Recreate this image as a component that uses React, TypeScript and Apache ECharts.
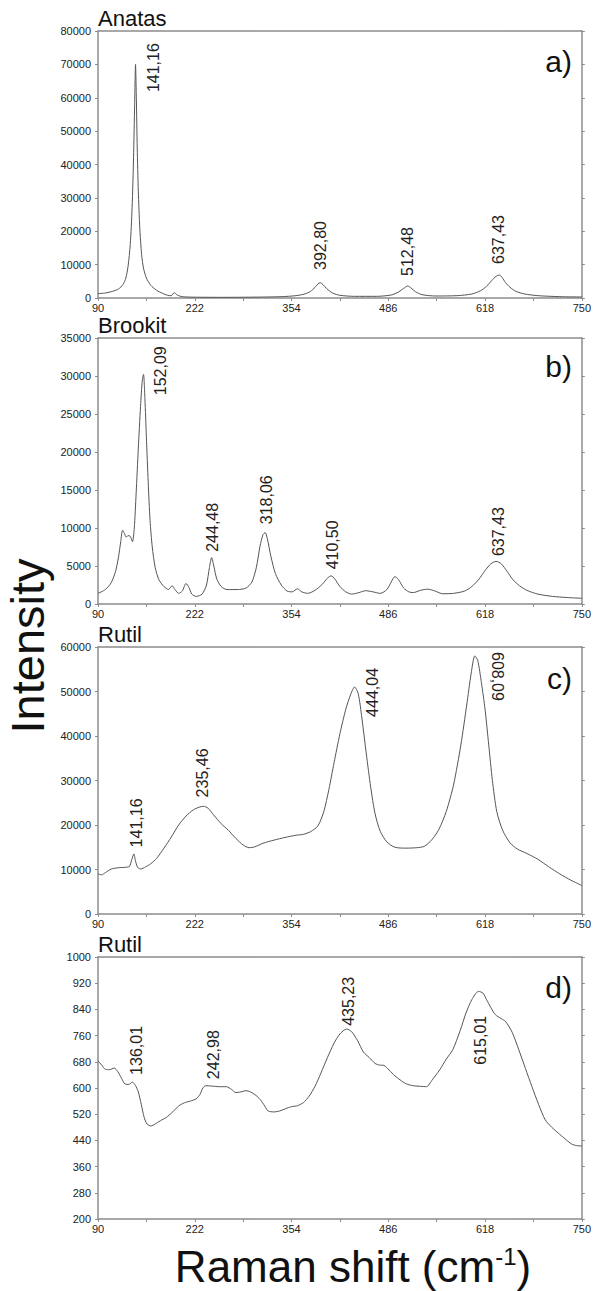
import React, { useEffect, useRef } from 'react';
import * as echarts from 'echarts';

// ---------- data ----------
const xTickLabels = ['90', '222', '354', '486', '618', '750'];

const anatasSpectrum: [number, number][] = [
  [90, 1300], [100, 1500], [110, 2000], [118, 2700], [124, 4000], [128, 6000], [131, 9500], [134, 16000],
  [136.5, 27000], [138.5, 42000], [140, 58000], [141.2, 70000], [142.3, 60000], [143.5, 45000], [145, 32000],
  [147, 21000], [149.5, 13000], [152, 9000], [156, 6000], [162, 3800], [170, 2300], [178, 1400], [185, 800],
  [190, 700], [194, 1600], [198, 900], [205, 400], [220, 250], [260, 200], [300, 250], [340, 400], [360, 700],
  [372, 1200], [380, 2000], [386, 3200], [390, 4200], [393, 4600], [397, 4000], [402, 2800], [410, 1500],
  [420, 800], [440, 500], [470, 500], [490, 900], [500, 1800], [507, 2900], [512.5, 3600], [517, 3000],
  [523, 1900], [532, 1000], [550, 600], [580, 700], [600, 1200], [612, 2200], [620, 3500], [627, 5200],
  [633, 6500], [637.4, 6900], [641, 6200], [646, 4600], [652, 3200], [660, 2000], [672, 1200], [690, 700],
  [720, 400], [750, 300],
];

const brookitSpectrum: [number, number][] = [
  [90, 1400], [100, 1900], [108, 2800], [114, 4300], [118, 6200], [121, 8200], [123.5, 9700], [126, 9300],
  [128.5, 8800], [131, 9000], [134, 8900], [137, 8200], [139.5, 10000], [142, 14500], [145, 20500],
  [148, 26000], [150.5, 29500], [152.1, 30200], [154, 27000], [156, 22000], [158.5, 16000], [161, 11000],
  [164, 7500], [168, 4800], [173, 3200], [180, 2300], [186, 1900], [191, 2400], [195, 1900], [200, 1400],
  [205, 1700], [210, 2700], [214, 2200], [218, 1300], [224, 1000], [232, 1300], [238, 2500], [242, 4800],
  [245, 6100], [248, 5000], [252, 3300], [258, 2300], [266, 1900], [280, 1900], [292, 2100], [300, 2900],
  [306, 4800], [311, 7600], [315, 9100], [318, 9400], [321, 8600], [326, 6200], [332, 4000], [340, 2500],
  [348, 1700], [355, 1600], [362, 2000], [368, 1600], [376, 1400], [386, 1800], [396, 2600], [403, 3400],
  [408, 3700], [413, 3300], [420, 2300], [428, 1600], [436, 1300], [446, 1500], [455, 1750], [465, 1600],
  [475, 1400], [484, 1900], [490, 2900], [495, 3600], [500, 3200], [507, 2100], [514, 1600], [520, 1500],
  [530, 1800], [540, 1950], [550, 1700], [560, 1350], [575, 1400], [590, 1700], [600, 2300], [610, 3300],
  [618, 4400], [626, 5300], [633, 5600], [640, 5300], [648, 4300], [656, 3200], [665, 2400], [675, 1800],
  [690, 1300], [710, 1000], [730, 850], [750, 750],
];

const rutilSpectrum1: [number, number][] = [
  [90, 9000], [95, 8800], [100, 9300], [108, 10100], [118, 10400], [128, 10500], [133, 10700], [136, 12200],
  [139, 13500], [141, 12000], [144, 10500], [148, 10100], [155, 10600], [162, 11300], [170, 12500],
  [180, 14800], [190, 17300], [200, 20000], [210, 22000], [220, 23400], [228, 24000], [234, 24200],
  [240, 23800], [248, 22200], [258, 20300], [268, 18800], [278, 17000], [288, 15500], [296, 14900],
  [304, 15100], [315, 15900], [330, 16600], [345, 17200], [360, 17700], [370, 17900], [380, 18500],
  [390, 19800], [398, 23000], [405, 28000], [412, 34000], [420, 40500], [428, 46000], [435, 49500],
  [440, 51000], [445, 49500], [450, 44000], [456, 36000], [462, 28500], [468, 22500], [475, 18600],
  [484, 16200], [495, 15000], [510, 14800], [525, 14900], [535, 15200], [545, 16600], [555, 19000],
  [565, 23000], [575, 29000], [585, 38000], [593, 47000], [599, 54000], [604, 58000], [608, 57000],
  [613, 52000], [618, 46000], [623, 38000], [628, 30000], [634, 23000], [642, 18800], [652, 16000],
  [662, 14600], [675, 13600], [690, 12300], [705, 10600], [720, 9000], [735, 7600], [750, 6400],
];

const rutilSpectrum2: [number, number][] = [
  [90, 683], [95, 670], [100, 657], [106, 656], [112, 661], [117, 650], [122, 630], [127, 612], [132, 611],
  [137, 618], [141, 608], [145, 588], [149, 550], [153, 510], [157, 490], [162, 484], [168, 490], [175, 500],
  [183, 510], [192, 527], [200, 545], [208, 555], [216, 560], [224, 567], [229, 580], [233, 600], [237, 607],
  [245, 606], [255, 604], [265, 604], [272, 596], [278, 586], [285, 588], [292, 592], [298, 588], [304, 580],
  [310, 568], [316, 550], [322, 530], [330, 527], [338, 530], [346, 537], [354, 543], [362, 546], [370, 555],
  [378, 575], [386, 605], [394, 645], [403, 693], [412, 737], [420, 765], [429, 780], [436, 772], [444, 745],
  [452, 710], [460, 693], [468, 675], [474, 670], [480, 669], [487, 655], [495, 637], [502, 625], [510, 613],
  [520, 607], [530, 605], [538, 604], [546, 625], [556, 655], [565, 688], [574, 717], [584, 775], [592, 829],
  [600, 870], [609, 895], [615, 890], [620, 870], [626, 845], [632, 824], [640, 812], [646, 803], [655, 770],
  [664, 717], [673, 660], [682, 604], [691, 550], [700, 503], [709, 480], [718, 462], [727, 445], [736, 429],
  [743, 424], [750, 423],
];

// peak labels: text, anchor (data coords of the start of the rotated text), direction
type Peak = { text: string; x: number; y: number; down?: boolean };
const anatasPeaks: Peak[] = [
  { text: '141,16', x: 165.6, y: 61700 },
  { text: '392,80', x: 394, y: 8400 },
  { text: '512,48', x: 512, y: 6600 },
  { text: '637,43', x: 636, y: 10200 },
];
const brookitPeaks: Peak[] = [
  { text: '152,09', x: 174.6, y: 27470 },
  { text: '244,48', x: 246.5, y: 6870 },
  { text: '318,06', x: 319.8, y: 10500 },
  { text: '410,50', x: 409.8, y: 4560 },
  { text: '637,43', x: 637, y: 6300 },
];
const rutil1Peaks: Peak[] = [
  { text: '141,16', x: 142.2, y: 14970 },
  { text: '235,46', x: 233, y: 26200 },
  { text: '444,04', x: 463.8, y: 44290 },
  { text: '608,09', x: 634.8, y: 58880, down: true },
];
const rutil2Peaks: Peak[] = [
  { text: '136,01', x: 142.2, y: 640 },
  { text: '242,98', x: 247.9, y: 627 },
  { text: '435,23', x: 432.3, y: 790 },
  { text: '615,01', x: 612.3, y: 671 },
];

const panelTitles = ['Anatas', 'Brookit', 'Rutil', 'Rutil'];
const panelLetters = ['a)', 'b)', 'c)', 'd)'];
const yMins = [0, 0, 0, 200];
const yMaxs = [80000, 35000, 60000, 1000];
const ySteps = [10000, 5000, 10000, 80];
const spectra = [anatasSpectrum, brookitSpectrum, rutilSpectrum1, rutilSpectrum2];
const peaks = [anatasPeaks, brookitPeaks, rutil1Peaks, rutil2Peaks];

// ---------- layout ----------
const W = 594;
const H = 1291;
const GRID_LEFT = 98;
const GRID_RIGHT = 7;
const gridTops = [31, 338, 647, 957];
const gridHeights = [267, 266, 267, 262];
const letterOffsets = [30, 28, 31, 30];
const FONT = '"Liberation Sans", Arial, Helvetica, sans-serif';
const AXIS_COLOR = '#8c8c8c';
const TEXT_COLOR = '#111';

export default function App() {
  const ref = useRef<HTMLDivElement>(null);

  useEffect(() => {
    if (!ref.current) return;
    const chart = echarts.init(ref.current, undefined, { renderer: 'svg' });

    const grid: any[] = [];
    const xAxis: any[] = [];
    const yAxis: any[] = [];
    const series: any[] = [];

    spectra.forEach((data, i) => {
      grid.push({ left: GRID_LEFT, right: GRID_RIGHT, top: gridTops[i], height: gridHeights[i] });
      const lineStyle = { color: AXIS_COLOR, width: 1.5 };
      xAxis.push({
        type: 'value', gridIndex: i, position: 'bottom', min: 90, max: 750, interval: 66,
        axisLine: { show: true, onZero: false, lineStyle },
        axisTick: { show: true, length: 3, lineStyle: { color: AXIS_COLOR, width: 1 } },
        axisLabel: {
          fontSize: 11, color: '#222', margin: 4, fontFamily: FONT,
          formatter: (v: number) => {
            const k = (v - 90) / 132;
            const r = Math.round(k);
            return Math.abs(k - r) < 1e-6 ? (xTickLabels[r] ?? '') : '';
          },
        },
        splitLine: { show: false },
      });
      xAxis.push({
        type: 'value', gridIndex: i, position: 'top', min: 90, max: 750,
        axisLine: { show: true, onZero: false, lineStyle },
        axisTick: { show: false }, axisLabel: { show: false }, splitLine: { show: false },
      });
      yAxis.push({
        type: 'value', gridIndex: i, position: 'left', min: yMins[i], max: yMaxs[i], interval: ySteps[i],
        axisLine: { show: true, onZero: false, lineStyle },
        axisTick: { show: true, length: 3, lineStyle: { color: AXIS_COLOR, width: 1 } },
        axisLabel: {
          fontSize: 11, color: '#222', margin: 7, fontFamily: FONT,
          formatter: (v: number) => String(Math.round(v)),
        },
        splitLine: { show: false },
      });
      yAxis.push({
        type: 'value', gridIndex: i, position: 'right', min: yMins[i], max: yMaxs[i], interval: ySteps[i],
        axisLine: { show: true, onZero: false, lineStyle },
        axisTick: { show: true, length: 3, lineStyle: { color: AXIS_COLOR, width: 1 } },
        axisLabel: { show: false },
        splitLine: { show: false },
      });
      series.push({
        type: 'line', xAxisIndex: 2 * i, yAxisIndex: 2 * i, data,
        showSymbol: false, symbol: 'none', smooth: 0.25, silent: true,
        lineStyle: { color: '#555', width: 1 },
      });
    });

    chart.setOption({
      animation: false,
      backgroundColor: '#fff',
      textStyle: { fontFamily: FONT },
      grid, xAxis, yAxis, series,
    });

    const graphic: any[] = [];
    spectra.forEach((_, i) => {
      graphic.push({
        type: 'text', x: GRID_LEFT, y: gridTops[i] - 13,
        style: { text: panelTitles[i], fontSize: 22, fontFamily: FONT, fill: TEXT_COLOR, align: 'left', verticalAlign: 'middle' },
      });
      graphic.push({
        type: 'text', x: W - GRID_RIGHT - 15, y: gridTops[i] + letterOffsets[i],
        style: { text: panelLetters[i], fontSize: 30, fontFamily: FONT, fill: TEXT_COLOR, align: 'right', verticalAlign: 'middle' },
      });
      peaks[i].forEach((pk) => {
        const p = chart.convertToPixel({ seriesIndex: i }, [pk.x, pk.y]) as number[];
        graphic.push({
          type: 'text', x: p[0], y: p[1], rotation: pk.down ? -Math.PI / 2 : Math.PI / 2,
          style: { text: pk.text, fontSize: 16, fontFamily: FONT, fill: '#222', align: 'left', verticalAlign: 'middle' },
        });
      });
    });
    graphic.push({
      type: 'text', x: 27, y: 646, rotation: Math.PI / 2,
      style: { text: 'Intensity', fontSize: 47, fontFamily: FONT, fill: TEXT_COLOR, align: 'center', verticalAlign: 'middle' },
    });
    graphic.push({
      type: 'text', x: 353, y: 1266,
      style: {
        text: 'Raman shift (cm{sup|-1})', fontSize: 44, fontFamily: FONT, fill: TEXT_COLOR,
        align: 'center', verticalAlign: 'middle',
        rich: { sup: { fontSize: 24, fontFamily: FONT, fill: TEXT_COLOR, verticalAlign: 'top', lineHeight: 24 } },
      },
    });
    chart.setOption({ graphic });

    return () => chart.dispose();
  }, []);

  return <div ref={ref} style={{ position: 'absolute', left: 0, top: 0, width: W, height: H }} />;
}
